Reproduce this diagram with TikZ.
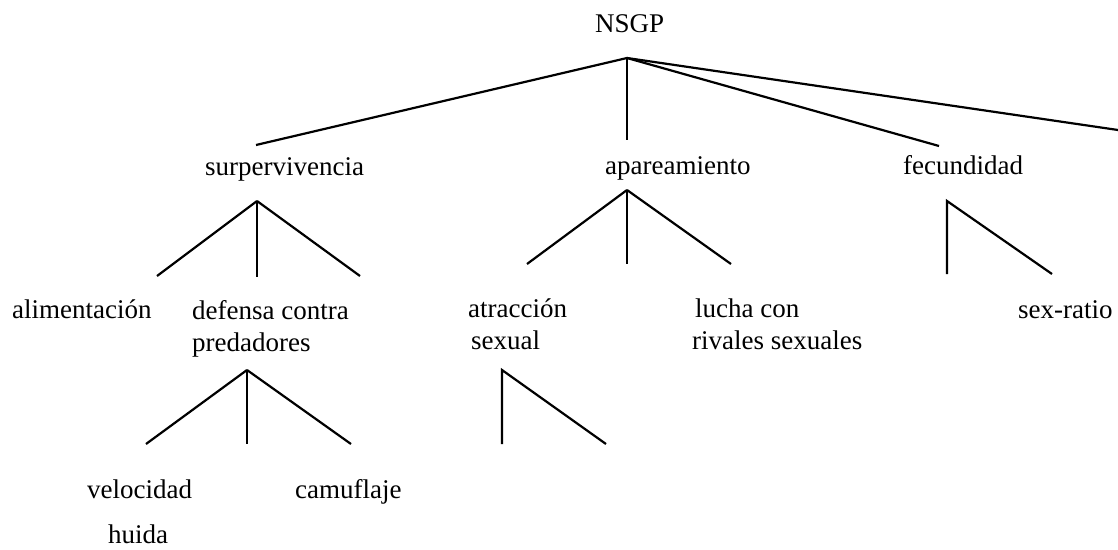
\documentclass[tikz,border=0pt]{standalone}
\usepackage{fontspec}
\setmainfont{Liberation Serif}
\begin{document}
\begin{tikzpicture}[x=1pt,y=-1pt,
  lbl/.style={anchor=base west, inner sep=0pt, font=\fontsize{27}{32}\selectfont, align=left},
  edge/.style={line width=2.2pt, line cap=butt, line join=miter}]
\useasboundingbox (0,0) rectangle (1118,549);
% labels
\node[lbl] (nsgp) at (595,32) {NSGP};
\node[lbl] (surv) at (205,175) {surpervivencia};
\node[lbl] (apar) at (605,174) {apareamiento};
\node[lbl] (fecu) at (903,174) {fecundidad};
\node[lbl] (alim) at (12,318) {alimentación};
\node[lbl] (defe) at (192,351) {defensa contra\\predadores};
\node[lbl] (atra) at (468,349) {atracción\\\hspace*{3pt}sexual};
\node[lbl] (luch) at (692,349) {\hspace*{3pt}lucha con\\rivales sexuales};
\node[lbl] (sexr) at (1018,318) {sex-ratio};
\node[lbl] (velo) at (87,498) {velocidad};
\node[lbl] (camu) at (295,498) {camuflaje};
\node[lbl] (huid) at (108,543) {huida};
% connector points
\coordinate (r0) at (627,58);
\coordinate (r1) at (256,145);
\coordinate (r2) at (627,140);
\coordinate (r3) at (939,146);
\coordinate (r4) at (1118,130);
\coordinate (s0) at (257,201);
\coordinate (s1) at (157,276);
\coordinate (s2) at (257,277);
\coordinate (s3) at (360,276);
\coordinate (a0) at (627,190);
\coordinate (a1) at (527,264);
\coordinate (a2) at (627,264);
\coordinate (a3) at (731,264);
\coordinate (f0) at (947,201);
\coordinate (f1) at (947,274);
\coordinate (f2) at (1052,274);
\coordinate (d0) at (247,370);
\coordinate (d1) at (146,444);
\coordinate (d2) at (247,444);
\coordinate (d3) at (351,444);
\coordinate (t0) at (502,370);
\coordinate (t1) at (502,444);
\coordinate (t2) at (606,444);
% connectors
\draw[edge] (r0) -- (r1);
\draw[edge] (r0) -- (r2);
\draw[edge] (r0) -- (r3);
\draw[edge] (r0) -- (r4);
\draw[edge] (s0) -- (s1);
\draw[edge] (s0) -- (s2);
\draw[edge] (s0) -- (s3);
\draw[edge] (a0) -- (a1);
\draw[edge] (a0) -- (a2);
\draw[edge] (a0) -- (a3);
\draw[edge] (f1) -- (f0) -- (f2);
\draw[edge] (d0) -- (d1);
\draw[edge] (d0) -- (d2);
\draw[edge] (d0) -- (d3);
\draw[edge] (t1) -- (t0) -- (t2);
\end{tikzpicture}
\end{document}
